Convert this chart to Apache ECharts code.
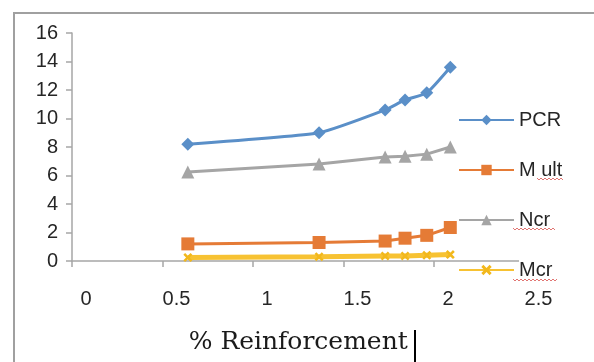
<!DOCTYPE html>
<html>
<head>
<meta charset="utf-8">
<script src="https://cdn.jsdelivr.net/npm/echarts@6/dist/echarts.min.js"></script>
<style>
html,body{margin:0;padding:0;background:#fff;}
#chart{width:594px;height:362px;}
</style>
</head>
<body>
<div id="chart"></div>
<script>
// Data
var xValues = [0.64, 1.365, 1.73, 1.84, 1.96, 2.09];
var pcr   = [8.2, 9.0, 10.6, 11.3, 11.8, 13.6];
var mult  = [1.2, 1.3, 1.4, 1.6, 1.8, 2.35];
var ncr   = [6.25, 6.8, 7.3, 7.35, 7.5, 8.0];
var mcr   = [0.25, 0.3, 0.35, 0.35, 0.4, 0.45];
var seriesNames = ['PCR', 'M ult', 'Ncr', 'Mcr'];
var xTicks = [0, 0.5, 1, 1.5, 2, 2.5];
var yTicks = [0, 2, 4, 6, 8, 10, 12, 14, 16];
var xTitle = '% Reinforcement';

function pairs(ys){ return ys.map(function(y,i){ return [xValues[i], y]; }); }

var chart = echarts.init(document.getElementById('chart'), null, {renderer:'canvas'});
var axisColor = '#a6a6a6';
var labelColor = '#262626';
var xShape = 'path://M0,2L2,0L5,3L8,0L10,2L7,5L10,8L8,10L5,7L2,10L0,8L3,5Z';

function squiggle(x0, x1, y){
  var pts = [], up = true;
  for (var x = x0; x <= x1; x += 2) { pts.push([x, up ? y - 1 : y + 1]); up = !up; }
  return {type:'polyline', silent:true, z:100, shape:{points:pts}, style:{stroke:'#d9534f', lineWidth:1, fill:null, opacity:0.8}};
}

var option = {
  animation: false,
  backgroundColor: '#fff',
  grid: {left:72, top:33, right:69.5, bottom:101, containLabel:false},
  xAxis: {
    type:'value', min:xTicks[0], max:xTicks[xTicks.length-1], interval:0.5,
    name: xTitle, nameLocation:'middle', nameGap:69,
    nameTextStyle:{fontFamily:'DejaVu Serif', fontSize:25, color:'#1a1a1a'},
    axisLine:{show:true, onZero:false, lineStyle:{color:axisColor, width:1.5}},
    axisTick:{show:true, inside:false, length:6, lineStyle:{color:axisColor, width:1.5}},
    splitLine:{show:false},
    axisLabel:{margin:28, fontFamily:'Liberation Sans', fontSize:20, color:labelColor, padding:[0,0,0,28],
      formatter:function(v){ return String(v); }}
  },
  yAxis: {
    type:'value', min:yTicks[0], max:yTicks[yTicks.length-1], interval:2,
    axisLine:{show:true, lineStyle:{color:axisColor, width:1.5}},
    axisTick:{show:true, inside:false, length:6, lineStyle:{color:axisColor, width:1.5}},
    splitLine:{show:false},
    axisLabel:{margin:14, fontFamily:'Liberation Sans', fontSize:20, color:labelColor}
  },
  legend: {
    orient:'vertical', left:453, top:104, itemWidth:55, itemHeight:13, itemGap:28,
    data: seriesNames,
    textStyle:{fontFamily:'Liberation Sans', fontSize:20, lineHeight:22, color:labelColor, backgroundColor:'#fff'}
  },
  series: [
    {name:seriesNames[0], type:'line', data:pairs(pcr), symbol:'diamond', symbolSize:13,
     lineStyle:{color:'#5a8fc8', width:3}, itemStyle:{color:'#5a8fc8'}, smooth:0.15},
    {name:seriesNames[1], type:'line', data:pairs(mult), symbol:'rect', symbolSize:13,
     lineStyle:{color:'#e57b36', width:3}, itemStyle:{color:'#e57b36'}},
    {name:seriesNames[2], type:'line', data:pairs(ncr), symbol:'triangle', symbolSize:13,
     lineStyle:{color:'#a5a5a5', width:3}, itemStyle:{color:'#a5a5a5'}},
    {name:seriesNames[3], type:'line', data:pairs(mcr), symbol:xShape, symbolSize:9,
     lineStyle:{color:'#f7c232', width:5}, itemStyle:{color:'#f2b81c'}}
  ],
  graphic: [
    {type:'rect', silent:true, z:-10, shape:{x:14, y:13, width:620, height:400},
     style:{fill:null, stroke:'#a0a0a0', lineWidth:2}},
    {type:'rect', silent:true, z:100, shape:{x:414, y:330, width:2, height:32}, style:{fill:'#000'}},
    squiggle(537, 563, 179),
    squiggle(513, 555, 229),
    squiggle(513, 557, 280)
  ]
};
chart.setOption(option);
</script>
</body>
</html>
